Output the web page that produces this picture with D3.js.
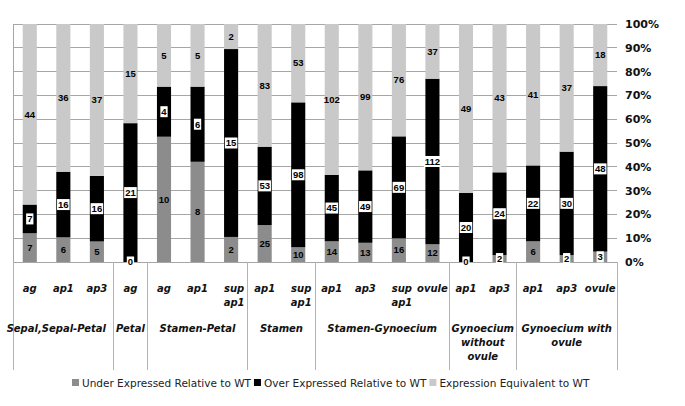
<!DOCTYPE html>
<html><head><meta charset="utf-8">
<script src="https://cdn.jsdelivr.net/npm/d3@7"></script>
<style>
body{margin:0;background:#fff;}
svg{display:block;}
</style></head>
<body>
<svg id="chart" width="685" height="406"></svg>
<script>
const categories = ["ag","ap1","ap3","ag","ag","ap1","sup ap1","ap1","sup ap1","ap1","ap3","sup ap1","ovule","ap1","ap3","ap1","ap3","ovule"];
const groupNames = ["Sepal,Sepal-Petal","Petal","Stamen-Petal","Stamen","Stamen-Gynoecium","Gynoecium without ovule","Gynoecium with ovule"];
const groupSizes = [3,1,3,2,4,2,3];
const under = [7,6,5,0,10,8,2,25,10,14,13,16,12,0,2,6,2,3];
const over  = [7,16,16,21,4,6,15,53,98,45,49,69,112,20,24,22,30,48];
const equiv = [44,36,37,15,5,5,2,83,53,102,99,76,37,49,43,41,37,18];
const yTicks = [0,10,20,30,40,50,60,70,80,90,100];
const seriesNames = ["Under Expressed Relative to WT","Over Expressed Relative to WT","Expression Equivalent to WT"];
const colors = ["#8c8c8c","#000000","#c9c9c9"];

const svg = d3.select("#chart");
const L = 13, R = 617, T = 24, B = 262;
const x = d3.scaleBand().domain(d3.range(categories.length)).range([L,R]).paddingInner(0.58).paddingOuter(0.29);
const y = d3.scaleLinear().domain([0,100]).range([B,T]);

// gridlines
svg.append("g").selectAll("line").data(yTicks).join("line")
  .attr("x1",L).attr("x2",R).attr("y1",d=>y(d)).attr("y2",d=>y(d))
  .attr("stroke","#a6a6a6").attr("stroke-width",1).attr("shape-rendering","crispEdges");
svg.append("line").attr("x1",L).attr("x2",L).attr("y1",T).attr("y2",370)
  .attr("stroke","#a6a6a6").attr("shape-rendering","crispEdges");

// stacked data
const rows = categories.map((c,i)=>{
  const tot = under[i]+over[i]+equiv[i];
  const vals = [under[i],over[i],equiv[i]];
  let acc = 0;
  return vals.map((v,k)=>{ const y0 = acc; acc += v/tot*100; return {i,k,v,y0,y1:acc}; });
});
const segs = rows.flat();

svg.append("g").selectAll("rect").data(segs).join("rect")
  .attr("x",d=>x(d.i)).attr("width",x.bandwidth())
  .attr("y",d=>y(d.y1)).attr("height",d=>y(d.y0)-y(d.y1))
  .attr("fill",d=>colors[d.k]);

// axis line & category separators
svg.append("line").attr("x1",L).attr("x2",R).attr("y1",B).attr("y2",B)
  .attr("stroke","#a6a6a6").attr("shape-rendering","crispEdges");
let acc = 0;
const bounds = [0];
groupSizes.forEach(n=>{acc+=n; bounds.push(acc);});
const step = x.step();
const bx = j => L + j*step;
svg.append("g").selectAll("line").data(bounds).join("line")
  .attr("x1",d=>bx(d)).attr("x2",d=>bx(d)).attr("y1",B).attr("y2",370)
  .attr("stroke","#b3b3b3").attr("shape-rendering","crispEdges");

// value labels
const lab = svg.append("g").attr("font-family","'Liberation Sans',Arial,sans-serif").attr("font-weight","bold").attr("font-size","9.5px");
segs.forEach(d=>{
  const cx = x(d.i)+x.bandwidth()/2;
  const cy = (y(d.y0)+y(d.y1))/2;
  const h = y(d.y0)-y(d.y1);
  const boxed = d.k===1 || (d.k===0 && h<11);
  const g = lab.append("g");
  const t = g.append("text").attr("x",cx).attr("y",cy).attr("dy","0.35em").attr("text-anchor","middle").attr("fill","#000").text(d.v);
  if(boxed){
    const w = t.node().getComputedTextLength();
    g.insert("rect","text").attr("x",cx-w/2-1).attr("y",cy-5.5).attr("width",w+2).attr("height",11).attr("fill","#fff");
  }
});

// right axis labels
svg.append("g").selectAll("text").data(yTicks).join("text")
  .attr("x",625).attr("y",d=>y(d)).attr("dy","0.36em")
  .attr("font-family","'DejaVu Sans',Verdana,sans-serif").attr("font-weight","bold").attr("font-size","11px")
  .attr("fill","#111").text(d=>d+"%");

// category labels
const catG = svg.append("g").attr("font-family","'DejaVu Sans',Verdana,sans-serif").attr("font-weight","bold").attr("font-style","italic").attr("font-size","10px").attr("fill","#111");
categories.forEach((c,i)=>{
  const cx = x(i)+x.bandwidth()/2;
  const lines = c.split(" ");
  const t = catG.append("text").attr("text-anchor","middle");
  lines.forEach((ln,j)=>t.append("tspan").attr("x",cx + (lines.length>1? 3:0)).attr("y",292+j*14).text(ln));
});
// group labels
const groupLines = {"Gynoecium without ovule":["Gynoecium","without","ovule"],"Gynoecium with ovule":["Gynoecium with","ovule"]};
groupNames.forEach((g,gi)=>{
  const cx = (bx(bounds[gi])+bx(bounds[gi+1]))/2;
  const lines = groupLines[g] || [g];
  const t = catG.append("text").attr("text-anchor","middle");
  lines.forEach((ln,j)=>t.append("tspan").attr("x",cx).attr("y",332+j*14).text(ln));
  // keep overflowing first-group label inside the chart edge
  const bb = t.node().getBBox();
  if (bb.x < 2) t.selectAll("tspan").attr("x", cx + (2 - bb.x));
  if (gi===0) t.selectAll("tspan").attr("x", cx - 7);
});

// legend
const leg = svg.append("g").attr("font-family","'DejaVu Sans',Verdana,sans-serif").attr("font-size","10.5px").attr("fill","#222");
let lx = 72;
seriesNames.forEach((s,k)=>{
  leg.append("rect").attr("x",lx).attr("y",379).attr("width",7).attr("height",7).attr("fill",colors[k]);
  const t = leg.append("text").attr("x",lx+10).attr("y",387).text(s);
  lx += 10 + t.node().getComputedTextLength() + 3;
});
</script>
</body></html>
